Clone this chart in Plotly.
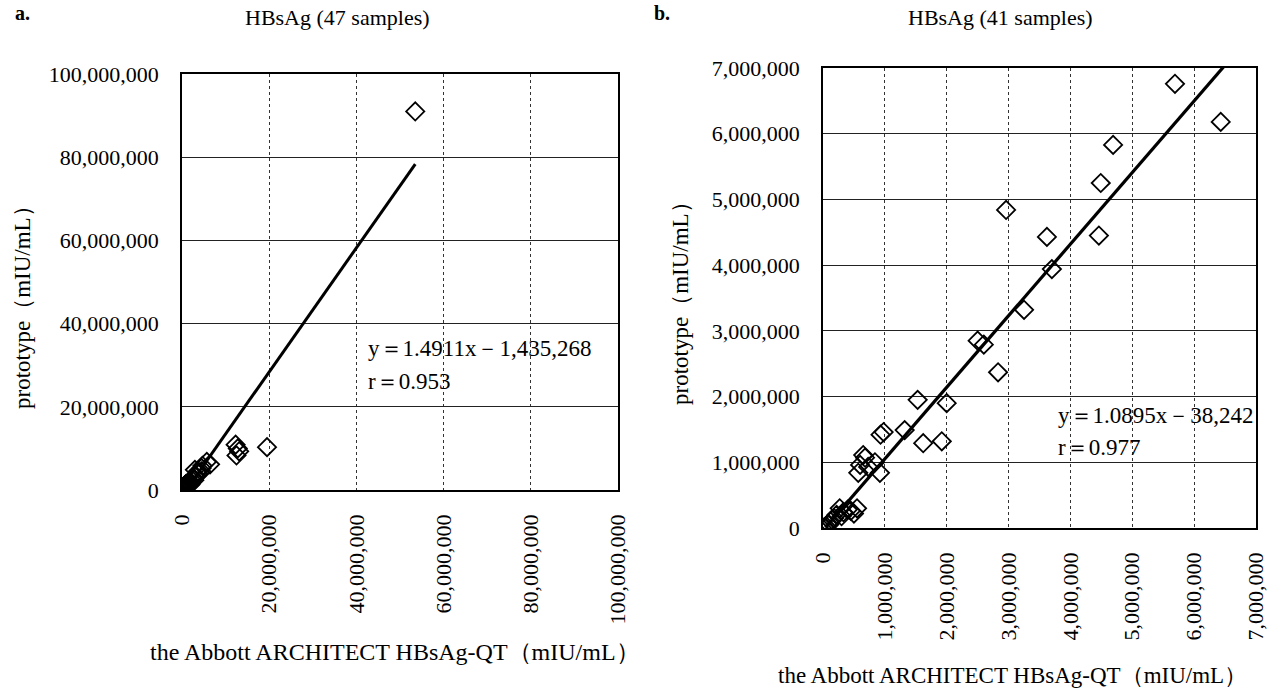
import plotly.graph_objects as go

# Panel a: 47 samples (x = Abbott ARCHITECT, y = prototype), mIU/mL
a_x = [53.5e6, 19.5e6, 12.3e6, 12.8e6, 13.1e6, 12.5e6,
       5.69e6, 6.43e6, 4.69e6, 4.49e6, 2.96e6, 3.62e6, 4.46e6, 3.70e6, 3.25e6, 2.50e6,
       2.60e6, 2.83e6, 1.53e6, 2.00e6, 0.93e6, 0.98e6, 1.32e6, 1.62e6, 1.92e6, 0.65e6,
       0.68e6, 0.84e6, 0.60e6, 0.57e6, 0.92e6, 0.73e6, 0.27e6, 0.33e6, 0.55e6, 0.50e6,
       0.40e6, 0.22e6, 0.18e6, 0.12e6, 0.08e6, 0.05e6, 0.02e6, 0.30e6, 0.15e6, 0.10e6, 0.45e6]
a_y = [91.0e6, 10.3e6, 10.9e6, 10.0e6, 9.3e6, 8.3e6,
       6.76e6, 6.18e6, 5.83e6, 5.25e6, 4.84e6, 4.43e6, 4.45e6, 3.94e6, 3.32e6, 2.85e6,
       2.79e6, 2.37e6, 1.95e6, 1.90e6, 1.42e6, 1.46e6, 1.49e6, 1.29e6, 1.32e6, 1.11e6,
       1.07e6, 1.00e6, 0.96e6, 0.84e6, 0.84e6, 0.93e6, 0.30e6, 0.24e6, 0.30e6, 0.22e6,
       0.28e6, 0.20e6, 0.15e6, 0.10e6, 0.06e6, 0.03e6, 0.01e6, 0.18e6, 0.12e6, 0.05e6, 0.26e6]

# Panel b: 41 samples
b_x = [5.69e6, 6.43e6, 4.69e6, 4.49e6, 2.96e6, 3.62e6, 4.46e6, 3.70e6, 3.25e6, 2.50e6,
       2.60e6, 2.83e6, 1.53e6, 2.00e6, 0.93e6, 0.98e6, 1.32e6, 1.62e6, 1.92e6, 0.65e6,
       0.68e6, 0.84e6, 0.60e6, 0.57e6, 0.92e6, 0.73e6, 0.27e6, 0.33e6, 0.55e6, 0.50e6,
       0.40e6, 0.22e6, 0.18e6, 0.12e6, 0.08e6, 0.05e6, 0.02e6, 0.30e6, 0.15e6, 0.10e6, 0.45e6]
b_y = [6.76e6, 6.18e6, 5.83e6, 5.25e6, 4.84e6, 4.43e6, 4.45e6, 3.94e6, 3.32e6, 2.85e6,
       2.79e6, 2.37e6, 1.95e6, 1.90e6, 1.42e6, 1.46e6, 1.49e6, 1.29e6, 1.32e6, 1.11e6,
       1.07e6, 1.00e6, 0.96e6, 0.84e6, 0.84e6, 0.93e6, 0.30e6, 0.24e6, 0.30e6, 0.22e6,
       0.28e6, 0.20e6, 0.15e6, 0.10e6, 0.06e6, 0.03e6, 0.01e6, 0.18e6, 0.12e6, 0.05e6, 0.26e6]

# Regression lines
a_slope, a_icpt = 1.4911, -1435268
b_slope, b_icpt = 1.0895, -38242
a_line_x = [1.0e6, 53.5e6]
b_line_x = [0.04e6, 6.5e6]

a_ticks = [0, 20e6, 40e6, 60e6, 80e6, 100e6]
a_ticktext = ["0", "20,000,000", "40,000,000", "60,000,000", "80,000,000", "100,000,000"]
b_ticks = [0, 1e6, 2e6, 3e6, 4e6, 5e6, 6e6, 7e6]
b_ticktext = ["0", "1,000,000", "2,000,000", "3,000,000", "4,000,000", "5,000,000", "6,000,000", "7,000,000"]

FONT = "Liberation Serif"
FS = 22
fig = go.Figure()

mk = dict(symbol="diamond-open", size=14, color="black", line=dict(width=1.8, color="black"))

fig.add_trace(go.Scatter(x=a_x, y=a_y, mode="markers", marker=mk, xaxis="x", yaxis="y", showlegend=False))
fig.add_trace(go.Scatter(x=a_line_x, y=[a_slope * v + a_icpt for v in a_line_x], mode="lines",
                         line=dict(color="black", width=3), xaxis="x", yaxis="y", showlegend=False))
fig.add_trace(go.Scatter(x=b_x, y=b_y, mode="markers", marker=mk, xaxis="x2", yaxis="y2", showlegend=False))
fig.add_trace(go.Scatter(x=b_line_x, y=[b_slope * v + b_icpt for v in b_line_x], mode="lines",
                         line=dict(color="black", width=3.2), xaxis="x2", yaxis="y2", showlegend=False))

W, H = 1282, 690
def px(v): return v / W
def py(v): return 1 - v / H

common_x = dict(tickangle=-90, showline=True, mirror=True, linecolor="black", linewidth=1.5,
                showgrid=True, gridcolor="#333333", griddash="dot", gridwidth=1, zeroline=False,
                ticks="", ticklabelstandoff=14, tickfont=dict(family=FONT, size=FS, color="black"),
                tickmode="array", automargin=False)
common_y = dict(showline=True, mirror=True, linecolor="black", linewidth=1.5,
                showgrid=True, gridcolor="#222222", gridwidth=1, zeroline=False,
                ticks="", ticklabelstandoff=17, tickfont=dict(family=FONT, size=FS, color="black"),
                tickmode="array", automargin=False)

fig.update_layout(
    width=W, height=H, margin=dict(l=0, r=0, t=0, b=0, pad=0, autoexpand=False),
    paper_bgcolor="white", plot_bgcolor="white",
    xaxis=dict(domain=[px(182), px(618)], range=[0, 100e6], tickvals=a_ticks, ticktext=a_ticktext,
               anchor="y", **common_x),
    yaxis=dict(domain=[py(490), py(74)], range=[0, 100e6], tickvals=a_ticks, ticktext=a_ticktext,
               anchor="x", **common_y),
    xaxis2=dict(domain=[px(823), px(1256)], range=[0, 7e6], tickvals=b_ticks, ticktext=b_ticktext,
                anchor="y2", **common_x),
    yaxis2=dict(domain=[py(528), py(68)], range=[0, 7e6], tickvals=b_ticks, ticktext=b_ticktext,
                anchor="x2", **common_y),
)

def ann(x, y, text, size=FS, bold=False, angle=0, xanchor="center"):
    fig.add_annotation(x=px(x), y=py(y), xref="paper", yref="paper", text=f"<b>{text}</b>" if bold else text,
                       showarrow=False, textangle=angle, xanchor=xanchor, yanchor="middle",
                       font=dict(family=FONT, size=size, color="black"))

ann(22, 13, "a.", bold=True, size=20)
ann(662, 13, "b.", bold=True, size=20)
ann(337, 18, "HBsAg (47 samples)")
ann(1000, 18, "HBsAg (41 samples)")
ann(22, 302, "prototype（mIU/mL）", size=23, angle=-90)
ann(680, 298, "prototype（mIU/mL）", size=23, angle=-90)
ann(395, 652, "the Abbott ARCHITECT HBsAg-QT（mIU/mL）", size=24)
ann(1012, 675, "the Abbott ARCHITECT HBsAg-QT（mIU/mL）", size=23)
ann(366, 348, "y＝1.4911x－1,435,268", size=23, xanchor="left")
ann(366, 381, "r＝0.953", size=23, xanchor="left")
ann(1056, 415, "y＝1.0895x－38,242", size=23, xanchor="left")
ann(1056, 447, "r＝0.977", size=23, xanchor="left")

fig.write_html("out.html")
